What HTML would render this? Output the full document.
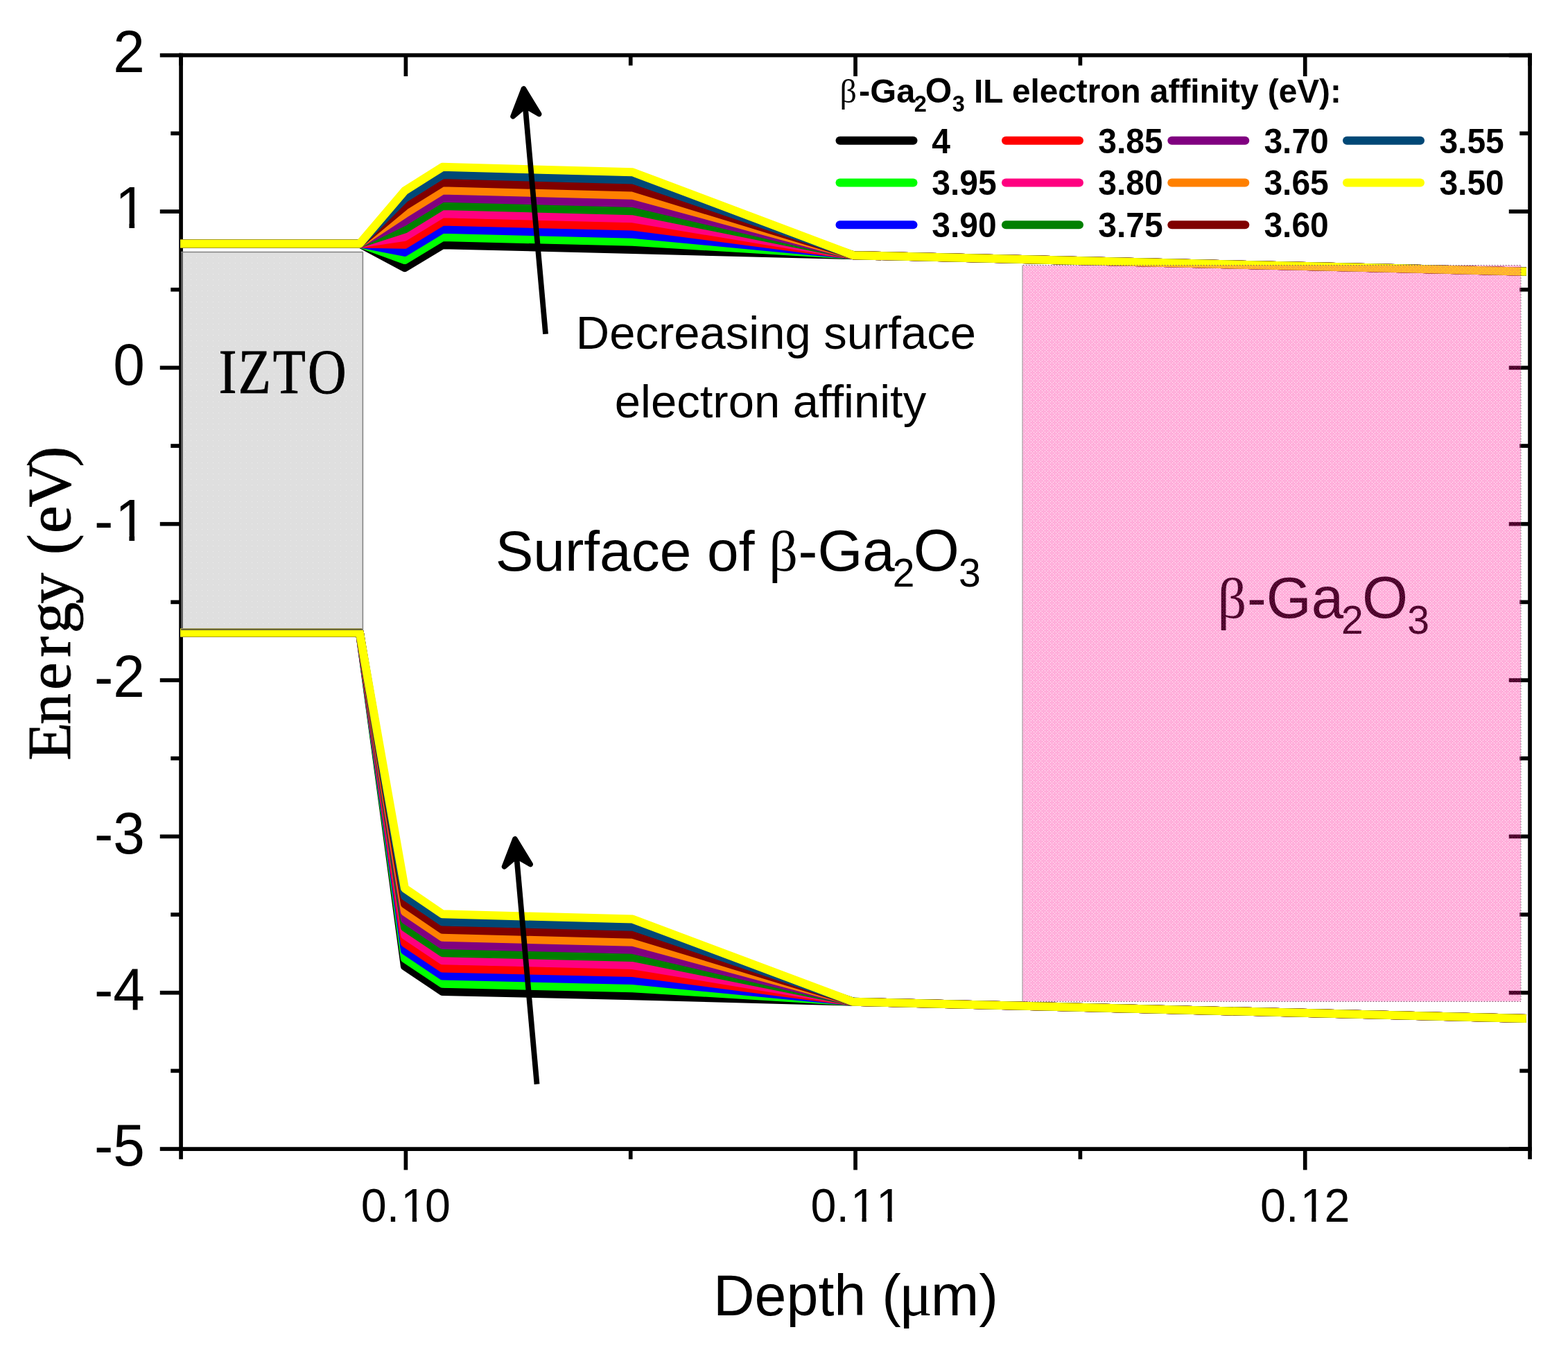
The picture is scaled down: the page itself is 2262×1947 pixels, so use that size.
<!DOCTYPE html>
<html lang="en"><head><meta charset="utf-8"><title>Band diagram</title>
<style>
html,body{margin:0;padding:0;background:#fff;}
body{width:2262px;height:1947px;overflow:hidden;}
svg{display:block;}
text{font-family:"Liberation Sans",Arial,Helvetica,sans-serif;fill:#000;white-space:pre;}
.serif{font-family:"Liberation Serif","Times New Roman",serif;}
.b{font-weight:bold;}
</style></head><body>
<svg width="2262" height="1947" viewBox="0 0 2262 1947" role="img" aria-label="Band diagram: energy versus depth">
<rect x="0" y="0" width="2262" height="1947" fill="#ffffff"/>
<g stroke="#000" stroke-width="5.70" fill="none" stroke-linecap="butt">
<line x1="258.22" y1="79.70" x2="2209.90" y2="79.70"/>
<line x1="258.22" y1="1657.05" x2="2209.90" y2="1657.05"/>
<line x1="261.07" y1="76.85" x2="261.07" y2="1659.90"/>
<line x1="2207.05" y1="76.85" x2="2207.05" y2="1659.90"/>
<line x1="230.77" y1="79.70" x2="261.07" y2="79.70"/>
<line x1="2176.75" y1="79.70" x2="2207.05" y2="79.70"/>
<line x1="246.27" y1="192.37" x2="261.07" y2="192.37"/>
<line x1="2192.25" y1="192.37" x2="2207.05" y2="192.37"/>
<line x1="230.77" y1="305.04" x2="261.07" y2="305.04"/>
<line x1="2176.75" y1="305.04" x2="2207.05" y2="305.04"/>
<line x1="246.27" y1="417.70" x2="261.07" y2="417.70"/>
<line x1="2192.25" y1="417.70" x2="2207.05" y2="417.70"/>
<line x1="230.77" y1="530.37" x2="261.07" y2="530.37"/>
<line x1="2176.75" y1="530.37" x2="2207.05" y2="530.37"/>
<line x1="246.27" y1="643.04" x2="261.07" y2="643.04"/>
<line x1="2192.25" y1="643.04" x2="2207.05" y2="643.04"/>
<line x1="230.77" y1="755.71" x2="261.07" y2="755.71"/>
<line x1="2176.75" y1="755.71" x2="2207.05" y2="755.71"/>
<line x1="246.27" y1="868.38" x2="261.07" y2="868.38"/>
<line x1="2192.25" y1="868.38" x2="2207.05" y2="868.38"/>
<line x1="230.77" y1="981.04" x2="261.07" y2="981.04"/>
<line x1="2176.75" y1="981.04" x2="2207.05" y2="981.04"/>
<line x1="246.27" y1="1093.71" x2="261.07" y2="1093.71"/>
<line x1="2192.25" y1="1093.71" x2="2207.05" y2="1093.71"/>
<line x1="230.77" y1="1206.38" x2="261.07" y2="1206.38"/>
<line x1="2176.75" y1="1206.38" x2="2207.05" y2="1206.38"/>
<line x1="246.27" y1="1319.05" x2="261.07" y2="1319.05"/>
<line x1="2192.25" y1="1319.05" x2="2207.05" y2="1319.05"/>
<line x1="230.77" y1="1431.71" x2="261.07" y2="1431.71"/>
<line x1="2176.75" y1="1431.71" x2="2207.05" y2="1431.71"/>
<line x1="246.27" y1="1544.38" x2="261.07" y2="1544.38"/>
<line x1="2192.25" y1="1544.38" x2="2207.05" y2="1544.38"/>
<line x1="230.77" y1="1657.05" x2="261.07" y2="1657.05"/>
<line x1="2176.75" y1="1657.05" x2="2207.05" y2="1657.05"/>
<line x1="261.07" y1="1657.05" x2="261.07" y2="1671.85"/>
<line x1="261.07" y1="79.70" x2="261.07" y2="94.50"/>
<line x1="585.40" y1="1657.05" x2="585.40" y2="1687.35"/>
<line x1="585.40" y1="79.70" x2="585.40" y2="110.00"/>
<line x1="909.73" y1="1657.05" x2="909.73" y2="1671.85"/>
<line x1="909.73" y1="79.70" x2="909.73" y2="94.50"/>
<line x1="1234.06" y1="1657.05" x2="1234.06" y2="1687.35"/>
<line x1="1234.06" y1="79.70" x2="1234.06" y2="110.00"/>
<line x1="1558.39" y1="1657.05" x2="1558.39" y2="1671.85"/>
<line x1="1558.39" y1="79.70" x2="1558.39" y2="94.50"/>
<line x1="1882.72" y1="1657.05" x2="1882.72" y2="1687.35"/>
<line x1="1882.72" y1="79.70" x2="1882.72" y2="110.00"/>
<line x1="2207.05" y1="1657.05" x2="2207.05" y2="1671.85"/>
<line x1="2207.05" y1="79.70" x2="2207.05" y2="94.50"/>
</g>
<g transform="translate(208.90 104.00) scale(1 1.040)"><text font-size="82.00" y="0" x="-45.60">2</text></g>
<g transform="translate(208.90 329.34) scale(1 1.040)"><text font-size="82.00" y="0" x="-42.90">1</text><rect x="-37.98" y="-7.53" width="15.46" height="8.73" fill="#fff"/><rect x="-14.81" y="-7.53" width="14.84" height="8.73" fill="#fff"/></g>
<g transform="translate(208.90 554.67) scale(1 1.040)"><text font-size="82.00" y="0" x="-45.60">0</text></g>
<g transform="translate(208.90 780.01) scale(1 1.040)"><text font-size="82.00" y="0" x="-72.91 -42.90">-1</text><rect x="-37.98" y="-7.53" width="15.46" height="8.73" fill="#fff"/><rect x="-14.81" y="-7.53" width="14.84" height="8.73" fill="#fff"/></g>
<g transform="translate(208.90 1005.34) scale(1 1.040)"><text font-size="82.00" y="0" x="-72.91 -45.60">-2</text></g>
<g transform="translate(208.90 1230.68) scale(1 1.040)"><text font-size="82.00" y="0" x="-72.91 -45.60">-3</text></g>
<g transform="translate(208.90 1456.01) scale(1 1.040)"><text font-size="82.00" y="0" x="-72.91 -45.60">-4</text></g>
<g transform="translate(208.90 1681.35) scale(1 1.040)"><text font-size="82.00" y="0" x="-72.91 -45.60">-5</text></g>
<g transform="translate(585.40 1762.30) scale(1 1.040)"><text font-size="66.40" y="0" x="-64.62 -27.69 -7.05 27.69">0.10</text><rect x="-3.07" y="-6.36" width="12.52" height="7.56" fill="#fff"/><rect x="15.69" y="-6.36" width="12.02" height="7.56" fill="#fff"/></g>
<g transform="translate(1234.06 1762.30) scale(1 1.040)"><text font-size="66.40" y="0" x="-64.62 -27.69 -7.05 29.88">0.11</text><rect x="-3.07" y="-6.36" width="12.52" height="7.56" fill="#fff"/><rect x="15.69" y="-6.36" width="12.02" height="7.56" fill="#fff"/><rect x="33.86" y="-6.36" width="12.52" height="7.56" fill="#fff"/><rect x="52.62" y="-6.36" width="12.02" height="7.56" fill="#fff"/></g>
<g transform="translate(1882.72 1762.30) scale(1 1.040)"><text font-size="66.40" y="0" x="-64.62 -27.69 -7.05 27.69">0.12</text><rect x="-3.07" y="-6.36" width="12.52" height="7.56" fill="#fff"/><rect x="15.69" y="-6.36" width="12.02" height="7.56" fill="#fff"/></g>
<text y="1896.60"><tspan x="1028.92" font-size="82.60">Depth (</tspan><tspan x="1296.71" font-size="90.00" class="serif" font-weight="normal">μ</tspan><tspan x="1342.66" font-size="83.50">m)</tspan></text>
<text class="serif" font-size="89.5" stroke="#000" stroke-width="0.9" transform="translate(100.7 1092.2) rotate(-90)" y="0" x="-4.50 47.33 97.09 144.40 178.85 221.50 266.25 292.17 323.09 360.58 418.62">Energy (eV)</text>
<text y="890.70"><tspan x="1756.61" font-size="82.00" class="serif" font-weight="normal">β</tspan><tspan x="1798.89" font-size="83.50">-Ga</tspan><tspan x="1934.93" dy="22.80" font-size="57.00">2</tspan><tspan x="1965.07" dy="-22.80" font-size="85.00">O</tspan><tspan x="2030.33" dy="22.80" font-size="57.00">3</tspan></text>
<g fill="none" stroke-width="12.00" stroke-linejoin="round" stroke-linecap="butt">
<polyline stroke="#000000" points="260.10,351.45 518.90,351.45 583.90,386.16 638.30,353.26 912.60,360.02 1231.00,368.13 2201.90,391.68"/>
<polyline stroke="#00ff00" points="260.10,351.45 518.90,351.45 583.90,375.05 638.30,342.01 912.60,348.84 1231.00,368.13 2201.90,391.68"/>
<polyline stroke="#0000ff" points="260.10,351.45 518.90,351.45 583.90,363.94 638.30,330.77 912.60,337.66 1231.00,368.13 2201.90,391.68"/>
<polyline stroke="#ff0000" points="260.10,351.45 518.90,351.45 583.90,352.83 638.30,319.52 912.60,326.49 1231.00,368.13 2201.90,391.68"/>
<polyline stroke="#ff0080" points="260.10,351.45 518.90,351.45 583.90,341.72 638.30,308.28 912.60,315.31 1231.00,368.13 2201.90,391.68"/>
<polyline stroke="#008000" points="260.10,351.45 518.90,351.45 583.90,330.61 638.30,297.04 912.60,304.13 1231.00,368.13 2201.90,391.68"/>
<polyline stroke="#800080" points="260.10,351.45 518.90,351.45 583.90,319.50 638.30,285.79 912.60,292.96 1231.00,368.13 2201.90,391.68"/>
<polyline stroke="#ff8000" points="260.10,351.45 518.90,351.45 583.90,308.39 638.30,274.55 912.60,281.78 1231.00,368.13 2201.90,391.68"/>
<polyline stroke="#800000" points="260.10,351.45 518.90,351.45 583.90,297.28 638.30,263.30 912.60,270.60 1231.00,368.13 2201.90,391.68"/>
<polyline stroke="#004876" points="260.10,351.45 518.90,351.45 583.90,286.18 638.30,252.06 912.60,259.43 1231.00,368.13 2201.90,391.68"/>
<polyline stroke="#ffff00" points="260.10,351.45 518.90,351.45 583.90,275.07 638.30,240.82 912.60,248.25 1231.00,368.13 2201.90,391.68"/>
<polyline stroke="#000000" points="260.10,912.45 518.90,912.45 583.90,1393.63 638.30,1429.91 912.60,1436.22 1231.00,1444.78 2201.90,1468.89"/>
<polyline stroke="#00ff00" points="260.10,912.45 518.90,912.45 583.90,1382.39 638.30,1418.76 912.60,1425.16 1231.00,1444.78 2201.90,1468.89"/>
<polyline stroke="#0000ff" points="260.10,912.45 518.90,912.45 583.90,1371.14 638.30,1407.60 912.60,1414.09 1231.00,1444.78 2201.90,1468.89"/>
<polyline stroke="#ff0000" points="260.10,912.45 518.90,912.45 583.90,1359.90 638.30,1396.45 912.60,1403.03 1231.00,1444.78 2201.90,1468.89"/>
<polyline stroke="#ff0080" points="260.10,912.45 518.90,912.45 583.90,1348.66 638.30,1385.30 912.60,1391.97 1231.00,1444.78 2201.90,1468.89"/>
<polyline stroke="#008000" points="260.10,912.45 518.90,912.45 583.90,1337.41 638.30,1374.14 912.60,1380.90 1231.00,1444.78 2201.90,1468.89"/>
<polyline stroke="#800080" points="260.10,912.45 518.90,912.45 583.90,1326.17 638.30,1362.99 912.60,1369.84 1231.00,1444.78 2201.90,1468.89"/>
<polyline stroke="#ff8000" points="260.10,912.45 518.90,912.45 583.90,1314.92 638.30,1351.83 912.60,1358.77 1231.00,1444.78 2201.90,1468.89"/>
<polyline stroke="#800000" points="260.10,912.45 518.90,912.45 583.90,1303.68 638.30,1340.68 912.60,1347.71 1231.00,1444.78 2201.90,1468.89"/>
<polyline stroke="#004876" points="260.10,912.45 518.90,912.45 583.90,1292.43 638.30,1329.52 912.60,1336.65 1231.00,1444.78 2201.90,1468.89"/>
<polyline stroke="#ffff00" points="260.10,912.45 518.90,912.45 583.90,1281.19 638.30,1318.37 912.60,1325.58 1231.00,1444.78 2201.90,1468.89"/>
</g>
<defs>
<pattern id="pk" width="8" height="8" patternUnits="userSpaceOnUse" x="0" y="0">
<rect width="8" height="8" fill="#ff1493" fill-opacity="0.27"/>
<rect x="1" y="1" width="1" height="1" fill="#ff1493" fill-opacity="0.38"/><rect x="3" y="1" width="1" height="1" fill="#ff1493" fill-opacity="0.38"/><rect x="7" y="1" width="1" height="1" fill="#ff1493" fill-opacity="0.38"/><rect x="1" y="3" width="1" height="1" fill="#ff1493" fill-opacity="0.38"/><rect x="5" y="3" width="1" height="1" fill="#ff1493" fill-opacity="0.38"/><rect x="3" y="5" width="1" height="1" fill="#ff1493" fill-opacity="0.38"/><rect x="5" y="5" width="1" height="1" fill="#ff1493" fill-opacity="0.38"/><rect x="7" y="5" width="1" height="1" fill="#ff1493" fill-opacity="0.38"/><rect x="1" y="7" width="1" height="1" fill="#ff1493" fill-opacity="0.38"/><rect x="5" y="7" width="1" height="1" fill="#ff1493" fill-opacity="0.38"/>
</pattern>
<pattern id="gy" width="8" height="8" patternUnits="userSpaceOnUse" x="0" y="0">
<rect width="8" height="8" fill="#bbbbbb" fill-opacity="0.48"/>
<rect x="3" y="3" width="1" height="1" fill="#ffffff" fill-opacity="0.45"/>
</pattern>
</defs>
<rect x="261.00" y="363.60" width="262.40" height="545.40" fill="url(#gy)"/>
<path d="M261.00 363.60 H523.40 V909.00" fill="none" stroke="#808080" stroke-width="1.5"/>
<path d="M261.00 907.85 H522.70" fill="none" stroke="#6e6a30" stroke-width="2.3"/>
<rect x="1475.00" y="382.50" width="719.00" height="1062.00" fill="url(#pk)"/>
<path d="M1475.00 382.50 V1444.50" fill="none" stroke="#9a9a9a" stroke-width="1.1"/>
<path d="M1475.00 382.50 H2194.00 V1444.50 H1475.00" fill="none" stroke="#606060" stroke-width="1.1" stroke-dasharray="1.2 2.8" stroke-dashoffset="3"/>
<text class="serif" font-size="91" stroke="#000" stroke-width="1.0" transform="translate(319 566.8) scale(0.845 1)" y="0" x="-3.95 29.38 88.41 147.91">IZTO</text>
<g font-size="67" text-anchor="middle">
<text x="1119.4" y="502.8">Decreasing surface</text>
<text x="1111.5" y="602.2">electron affinity</text>
</g>
<text y="823.00"><tspan x="714.68" font-size="82.00">Surface of </tspan><tspan x="1109.31" font-size="82.00" class="serif" font-weight="normal">β</tspan><tspan x="1151.59" font-size="83.50">-Ga</tspan><tspan x="1287.63" dy="22.80" font-size="57.00">2</tspan><tspan x="1317.77" dy="-22.80" font-size="85.00">O</tspan><tspan x="1383.03" dy="22.80" font-size="57.00">3</tspan></text>
<line x1="787.06" y1="481.75" x2="757.67" y2="152.85" stroke="#000" stroke-width="7.80"/><path d="M755.44 127.95 L740.03 167.88 L757.67 152.85 L777.68 164.52 Z" fill="#000" stroke="#000" stroke-width="7.60" stroke-linejoin="round"/>
<line x1="774.51" y1="1563.70" x2="745.16" y2="1234.85" stroke="#000" stroke-width="7.80"/><path d="M742.94 1209.95 L727.53 1249.88 L745.16 1234.85 L765.18 1246.52 Z" fill="#000" stroke="#000" stroke-width="7.60" stroke-linejoin="round"/>
<text y="147.80" class="b"><tspan x="1211.51" font-size="48.00" class="serif" font-weight="normal">β</tspan><tspan x="1239.00" font-size="48.75">-Ga</tspan><tspan x="1318.67" dy="13.00" font-size="32.50">2</tspan><tspan x="1334.87" dy="-13.00" font-size="49.50">O</tspan><tspan x="1373.85" dy="13.00" font-size="32.50">3</tspan><tspan x="1391.84" dy="-13.00" font-size="47.75"> IL electron affinity (eV):</tspan></text>
<g stroke-width="12" stroke-linecap="round" fill="none">
<line x1="1211.50" y1="202.80" x2="1317.50" y2="202.80" stroke="#000000"/>
<line x1="1211.50" y1="263.50" x2="1317.50" y2="263.50" stroke="#00ff00"/>
<line x1="1211.50" y1="324.20" x2="1317.50" y2="324.20" stroke="#0000ff"/>
<line x1="1451.00" y1="202.80" x2="1557.00" y2="202.80" stroke="#ff0000"/>
<line x1="1451.00" y1="263.50" x2="1557.00" y2="263.50" stroke="#ff0080"/>
<line x1="1451.00" y1="324.20" x2="1557.00" y2="324.20" stroke="#008000"/>
<line x1="1690.30" y1="202.80" x2="1796.30" y2="202.80" stroke="#800080"/>
<line x1="1690.30" y1="263.50" x2="1796.30" y2="263.50" stroke="#ff8000"/>
<line x1="1690.30" y1="324.20" x2="1796.30" y2="324.20" stroke="#800000"/>
<line x1="1943.00" y1="202.80" x2="2049.00" y2="202.80" stroke="#004876"/>
<line x1="1943.00" y1="263.50" x2="2049.00" y2="263.50" stroke="#ffff00"/>
</g>
<g class="b" font-size="48">
<text transform="translate(1344.20 220.60) scale(1 1.040)">4</text>
<text transform="translate(1344.20 281.30) scale(1 1.040)">3.95</text>
<text transform="translate(1344.20 342.00) scale(1 1.040)">3.90</text>
<text transform="translate(1584.20 220.60) scale(1 1.040)">3.85</text>
<text transform="translate(1584.20 281.30) scale(1 1.040)">3.80</text>
<text transform="translate(1584.20 342.00) scale(1 1.040)">3.75</text>
<text transform="translate(1823.40 220.60) scale(1 1.040)">3.70</text>
<text transform="translate(1823.40 281.30) scale(1 1.040)">3.65</text>
<text transform="translate(1823.40 342.00) scale(1 1.040)">3.60</text>
<text transform="translate(2076.40 220.60) scale(1 1.040)">3.55</text>
<text transform="translate(2076.40 281.30) scale(1 1.040)">3.50</text>
</g>
</svg></body></html>
